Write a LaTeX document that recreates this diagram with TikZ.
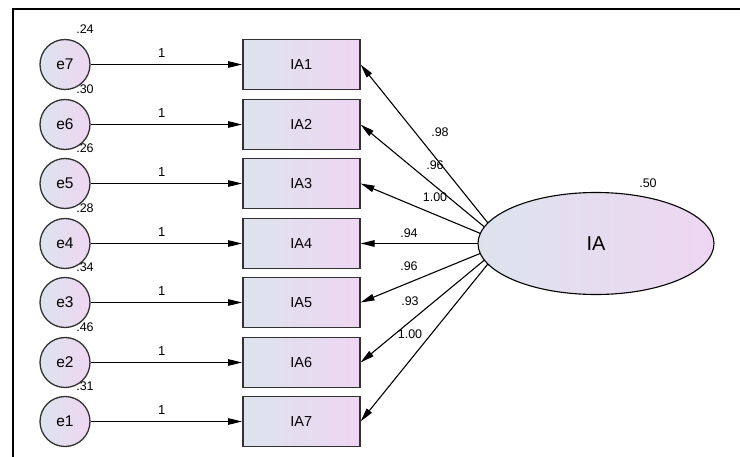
\documentclass[tikz,border=0pt]{standalone}
\usepackage{fontspec}
\setmainfont{Liberation Sans}
\usetikzlibrary{arrows.meta,shapes.geometric,backgrounds,calc}

\definecolor{fillL}{RGB}{221,227,237}
\definecolor{fillR}{RGB}{238,214,242}
\definecolor{edgegray}{RGB}{50,50,50}

\tikzset{
  obs/.style={draw=edgegray, line width=1.5pt, minimum width=117pt, minimum height=50pt,
    inner sep=0pt, left color=fillL, right color=fillR, font=\fontsize{14.5}{14.5}\selectfont},
  err/.style={circle, draw=edgegray, line width=1.3pt, minimum size=50pt, inner sep=0pt,
    left color=fillL, right color=fillR, font=\fontsize{15.5}{15.5}\selectfont},
  lat/.style={ellipse, draw=black, line width=1.1pt, minimum width=236pt, minimum height=102pt,
    inner sep=0pt, left color=fillL, right color=fillR, font=\fontsize{20}{20}\selectfont},
  ptharrow/.style={line width=1.1pt, -{Triangle[length=14pt,width=6.5pt]}},
  num/.style={font=\fontsize{12.5}{12.5}\selectfont, inner sep=0pt},
  one/.style={font=\fontsize{13}{13}\selectfont, inner sep=0pt},
}

\begin{document}
\begin{tikzpicture}[x=1pt,y=-1pt]
\useasboundingbox (0,0) rectangle (740,457);

% outer frame (top and left edges)
\draw[line width=2.6pt] (13,465) -- (13,9) -- (750,9);

% error terms and indicators, one row each
\foreach \i/\e/\v/\ry in {1/7/.24/64.5, 2/6/.30/124.5, 3/5/.26/183.5, 4/4/.28/243.5,
    5/3/.34/302.5, 6/2/.46/362.5, 7/1/.31/421.5} {
  \node[err] (e\e) at (65, \ry) {e\e};
  \node[obs] (IA\i) at (301.3, \ry) {IA\i};
  \draw[ptharrow] (e\e) -- node[one, above=6.5pt, pos=0.47] (w\i) {1} (IA\i);
  \node[num] (v\e) at ($(e\e)+(20,-35.5)$) {\v};
}

% latent factor
\node[lat] (IA) at (596,243.5) {IA};
\node[num] (vIA) at (648,183) {.50};
\coordinate (fc) at ($(IA.west)+(27,0)$);

% factor loadings
\begin{pgfonlayer}{background}
  \foreach \i in {1,...,7} {
    \draw[ptharrow] (fc) -- (IA\i.east);
  }
\end{pgfonlayer}
\foreach \i/\lbl/\lx/\ly in {1/.98/440/132, 2/.96/435/165, 3/1.00/435/197, 4/.94/409/233,
    5/.96/409/266, 6/.93/410/301, 7/1.00/410/334} {
  \node[num] (l\i) at (\lx,\ly) {\lbl};
}
\end{tikzpicture}
\end{document}
